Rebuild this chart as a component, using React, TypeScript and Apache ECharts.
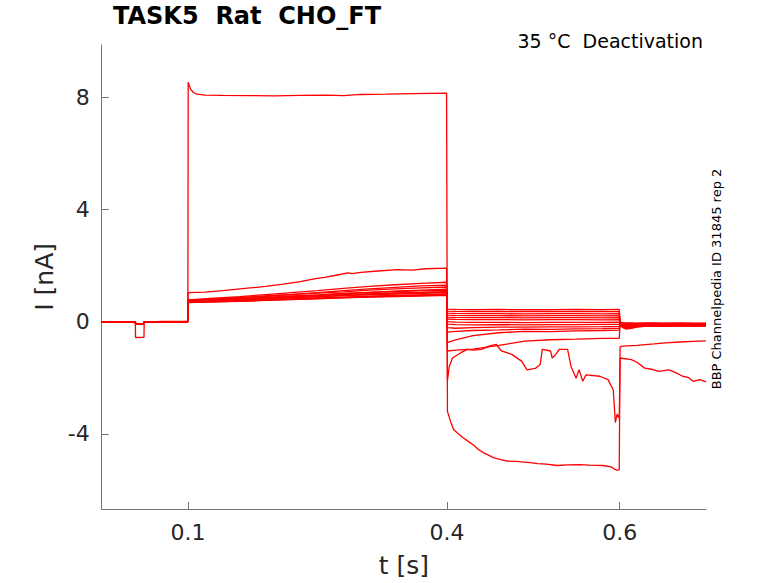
import React, { useEffect, useRef } from "react";
import * as echarts from "echarts";

// ---- axis ticks ----
const X_TICKS = [0.1, 0.4, 0.6];
const Y_TICKS = [-4, 0, 4, 8];

// ---- shared sample times ----
const PRE_POINTS: number[][] = [
  [0, -0.02], [0.015, -0.01], [0.03, -0.02], [0.039, -0.02], [0.0392, -0.08],
  [0.049, -0.07], [0.0492, -0.01], [0.065, -0.03], [0.08, -0.01], [0.0998, -0.01],
];
const PRE_BIG: number[][] = [
  [0, -0.01], [0.02, -0.02], [0.039, -0.02], [0.0392, -0.57], [0.049, -0.56],
  [0.0492, -0.02], [0.07, 0.0], [0.0998, 0.0],
];
const STEP_T = [0.1002, 0.13, 0.16, 0.19, 0.22, 0.25, 0.28, 0.31, 0.34, 0.37, 0.3995];
const TAIL_T = [0.4005, 0.41, 0.43, 0.46, 0.49, 0.52, 0.55, 0.58, 0.5995];
const POST_T = [0.6005, 0.603, 0.607, 0.612, 0.62, 0.635, 0.65, 0.67, 0.69, 0.7];

// ---- lower-group traces: step, tail, post values ----
const STEP_VALUES: number[][] = [
  [0.72, 0.73, 0.76, 0.78, 0.81, 0.84, 0.87, 0.9, 0.93, 0.95, 0.97],
  [0.69, 0.71, 0.74, 0.77, 0.8, 0.83, 0.85, 0.88, 0.91, 0.93, 0.95],
  [0.67, 0.7, 0.72, 0.75, 0.78, 0.81, 0.84, 0.87, 0.89, 0.91, 0.93],
  [0.73, 0.75, 0.78, 0.81, 0.85, 0.88, 0.92, 0.95, 0.98, 1.0, 1.02],
  [0.68, 0.7, 0.73, 0.76, 0.79, 0.83, 0.86, 0.89, 0.92, 0.95, 0.97],
  [0.74, 0.77, 0.8, 0.84, 0.88, 0.92, 0.96, 0.99, 1.02, 1.04, 1.06],
  [0.7, 0.73, 0.77, 0.8, 0.85, 0.89, 0.93, 0.97, 1.0, 1.03, 1.05],
  [0.75, 0.78, 0.82, 0.86, 0.91, 0.95, 1.0, 1.04, 1.07, 1.09, 1.11],
  [0.71, 0.75, 0.79, 0.84, 0.89, 0.94, 0.99, 1.04, 1.08, 1.12, 1.15],
  [0.76, 0.8, 0.85, 0.9, 0.96, 1.01, 1.06, 1.12, 1.16, 1.2, 1.23],
  [0.74, 0.79, 0.85, 0.91, 0.97, 1.03, 1.1, 1.16, 1.22, 1.27, 1.3],
  [0.77, 0.83, 0.89, 0.96, 1.03, 1.1, 1.18, 1.25, 1.31, 1.36, 1.4],
];
const TAIL_VALUES: number[][] = [
  [0.44, 0.43, 0.42, 0.43, 0.42, 0.42, 0.43, 0.42, 0.43],
  [0.37, 0.36, 0.35, 0.36, 0.35, 0.35, 0.36, 0.35, 0.35],
  [0.3, 0.29, 0.28, 0.28, 0.27, 0.28, 0.28, 0.27, 0.28],
  [0.23, 0.22, 0.21, 0.21, 0.2, 0.21, 0.21, 0.2, 0.21],
  [0.16, 0.15, 0.14, 0.14, 0.13, 0.14, 0.14, 0.13, 0.14],
  [0.09, 0.08, 0.07, 0.07, 0.06, 0.07, 0.07, 0.06, 0.07],
  [0.0, -0.02, -0.03, -0.03, -0.04, -0.03, -0.03, -0.03, -0.02],
  [-0.09, -0.11, -0.12, -0.11, -0.12, -0.11, -0.11, -0.1, -0.1],
  [-0.22, -0.24, -0.22, -0.2, -0.2, -0.19, -0.19, -0.18, -0.17],
  [-0.38, -0.35, -0.32, -0.3, -0.27, -0.28, -0.26, -0.25, -0.24],
  [-0.75, -0.65, -0.5, -0.4, -0.35, -0.36, -0.33, -0.32, -0.31],
  [-1.05, -1.02, -0.98, -0.85, -0.7, -0.65, -0.63, -0.6, -0.6],
];
const POST_VALUES: number[][] = [
  [-0.02, -0.04, -0.05, -0.05, -0.06, -0.05, -0.06, -0.05, -0.06, -0.06],
  [-0.04, -0.06, -0.08, -0.07, -0.07, -0.06, -0.07, -0.07, -0.08, -0.07],
  [-0.05, -0.08, -0.1, -0.09, -0.08, -0.08, -0.09, -0.08, -0.09, -0.09],
  [-0.06, -0.1, -0.12, -0.1, -0.09, -0.09, -0.1, -0.09, -0.1, -0.1],
  [-0.07, -0.12, -0.14, -0.12, -0.1, -0.1, -0.11, -0.1, -0.11, -0.1],
  [-0.08, -0.14, -0.17, -0.15, -0.12, -0.11, -0.12, -0.11, -0.12, -0.11],
  [-0.09, -0.16, -0.2, -0.18, -0.14, -0.12, -0.13, -0.12, -0.13, -0.12],
  [-0.1, -0.18, -0.23, -0.22, -0.16, -0.13, -0.14, -0.13, -0.14, -0.13],
  [-0.1, -0.2, -0.25, -0.24, -0.18, -0.14, -0.15, -0.14, -0.15, -0.14],
  [-0.11, -0.2, -0.26, -0.25, -0.2, -0.15, -0.16, -0.15, -0.15, -0.15],
  [-0.1, -0.16, -0.2, -0.2, -0.17, -0.14, -0.15, -0.14, -0.15, -0.15],
  [-0.12, -0.17, -0.19, -0.18, -0.16, -0.15, -0.16, -0.15, -0.16, -0.16],
];

// ---- trace with the largest step current (≈8 nA) ----
const BIG_STEP: number[][] = [
  [0.1002, 8.53], [0.1015, 8.4], [0.103, 8.28], [0.106, 8.17], [0.11, 8.1],
  [0.12, 8.07], [0.14, 8.06], [0.17, 8.05], [0.2, 8.04], [0.23, 8.06],
  [0.26, 8.07], [0.28, 8.05], [0.3, 8.09], [0.33, 8.1], [0.36, 8.12],
  [0.38, 8.13], [0.3995, 8.14],
];
const BIG_TAIL: number[][] = [
  [0.4005, -3.2], [0.404, -3.55], [0.4076, -3.85], [0.413, -4.0], [0.419, -4.15],
  [0.425, -4.28], [0.4306, -4.4], [0.436, -4.55], [0.442, -4.67], [0.448, -4.76],
  [0.4536, -4.85], [0.46, -4.9], [0.4697, -4.97], [0.48, -4.98], [0.4964, -5.03],
  [0.505, -5.06], [0.515, -5.08], [0.5276, -5.13], [0.54, -5.11], [0.554, -5.1],
  [0.565, -5.12], [0.5806, -5.13], [0.59, -5.18], [0.5945, -5.27], [0.598, -5.3],
  [0.5995, -5.28],
];
const BIG_POST: number[][] = [
  [0.6005, -0.9], [0.603, -0.88], [0.62, -0.85], [0.64, -0.8], [0.653, -0.76],
  [0.67, -0.73], [0.685, -0.71], [0.7, -0.69],
];

// ---- trace with ≈1.9 nA step and noisy tail ----
const MID_STEP: number[][] = [
  [0.1002, 1.03], [0.12, 1.05], [0.14, 1.1], [0.169, 1.19], [0.19, 1.25],
  [0.21, 1.33], [0.23, 1.42], [0.246, 1.52], [0.26, 1.58], [0.27, 1.64],
  [0.285, 1.73], [0.29, 1.71], [0.3, 1.75], [0.32, 1.8], [0.343, 1.85],
  [0.36, 1.83], [0.375, 1.88], [0.3995, 1.9],
];
const MID_TAIL: number[][] = [
  [0.4005, -2.1], [0.4026, -1.6], [0.4064, -1.3], [0.416, -1.11], [0.4237, -0.99],
  [0.43, -1.02], [0.44, -0.99], [0.4496, -0.87], [0.457, -0.81], [0.463, -1.05],
  [0.475, -1.17], [0.4867, -1.42], [0.4926, -1.72], [0.5022, -1.67], [0.508, -1.53],
  [0.5103, -0.99], [0.52, -1.05], [0.5218, -1.3], [0.526, -1.17], [0.53, -0.99],
  [0.5397, -0.99], [0.5436, -1.6], [0.5495, -2.02], [0.553, -1.72], [0.5572, -2.13],
  [0.561, -1.9], [0.5769, -1.95], [0.5865, -2.07], [0.5926, -2.44], [0.595, -3.6],
  [0.597, -3.3], [0.5995, -3.45],
];
const MID_POST: number[][] = [
  [0.6005, -1.3], [0.6135, -1.36], [0.62, -1.45], [0.629, -1.66], [0.637, -1.7],
  [0.645, -1.78], [0.657, -1.72], [0.665, -1.82], [0.673, -1.95], [0.68, -2.0],
  [0.685, -2.13], [0.693, -2.07], [0.7, -2.15],
];

const FONT = "DejaVu Sans";
const RED = "#ff0000";
const AXIS_GRAY = "#737373";
const TEXT_DARK = "#262626";

function zipPoints(times: number[], values: number[]): number[][] {
  return times.map((t, i) => [t, values[i]]);
}

function buildTraces(): number[][][] {
  const traces: number[][][] = [];
  for (let k = 0; k < STEP_VALUES.length; k++) {
    traces.push([
      ...PRE_POINTS,
      ...zipPoints(STEP_T, STEP_VALUES[k]),
      ...zipPoints(TAIL_T, TAIL_VALUES[k]),
      ...zipPoints(POST_T, POST_VALUES[k]),
    ]);
  }
  traces.push([...PRE_POINTS, ...MID_STEP, ...MID_TAIL, ...MID_POST]);
  traces.push([...PRE_BIG, ...BIG_STEP, ...BIG_TAIL, ...BIG_POST]);
  return traces;
}

export default function App() {
  const ref = useRef<HTMLDivElement>(null);

  useEffect(() => {
    if (!ref.current) return;
    const chart = echarts.init(ref.current, null, { renderer: "svg" });
    const traces = buildTraces();
    chart.setOption({
      animation: false,
      backgroundColor: "#ffffff",
      textStyle: { fontFamily: FONT },
      grid: { left: 101.7, right: 72, top: 44.8, bottom: 69.5, containLabel: false },
      xAxis: {
        type: "value",
        min: 0,
        max: 0.7,
        name: "t [s]",
        nameLocation: "middle",
        nameGap: 44,
        nameTextStyle: { fontSize: 25, color: TEXT_DARK, fontFamily: FONT },
        axisLine: { show: true, onZero: false, lineStyle: { color: AXIS_GRAY, width: 1 } },
        axisTick: { show: true, inside: true, length: 7, customValues: X_TICKS, lineStyle: { color: AXIS_GRAY } },
        axisLabel: {
          customValues: X_TICKS,
          fontSize: 22,
          color: TEXT_DARK,
          fontFamily: FONT,
          margin: 12,
          formatter: (v: number) => String(v),
        },
        splitLine: { show: false },
      },
      yAxis: {
        type: "value",
        min: -6.68,
        max: 9.86,
        name: "I [nA]",
        nameLocation: "middle",
        nameGap: 34,
        nameTextStyle: { fontSize: 25, color: TEXT_DARK, fontFamily: FONT },
        axisLine: { show: true, onZero: false, lineStyle: { color: AXIS_GRAY, width: 1 } },
        axisTick: { show: true, inside: true, length: 7, customValues: Y_TICKS, lineStyle: { color: AXIS_GRAY } },
        axisLabel: {
          customValues: Y_TICKS,
          fontSize: 22,
          color: TEXT_DARK,
          fontFamily: FONT,
          margin: 12,
          formatter: (v: number) => String(v),
        },
        splitLine: { show: false },
      },
      graphic: [
        {
          type: "text",
          left: 113,
          top: 4,
          style: {
            text: "TASK5  Rat  CHO_FT",
            fontSize: 24,
            fontWeight: "bold",
            fontFamily: FONT,
            fill: "#000000",
          },
        },
        {
          type: "text",
          x: 703,
          y: 41,
          style: {
            text: "35 °C  Deactivation",
            fontSize: 19,
            fontFamily: FONT,
            fill: "#000000",
            align: "right",
            verticalAlign: "middle",
          },
        },
        {
          type: "text",
          x: 716.5,
          y: 279,
          rotation: Math.PI / 2,
          style: {
            text: "BBP Channelpedia ID 31845 rep 2",
            fontSize: 13,
            fontFamily: FONT,
            fill: "#000000",
            align: "center",
            verticalAlign: "middle",
          },
        },
      ],
      series: traces.map((data, i) => ({
        type: "line",
        name: "trace" + (i + 1),
        data,
        showSymbol: false,
        symbol: "none",
        silent: true,
        clip: true,
        lineStyle: { color: RED, width: 1.3 },
      })),
    });
    return () => chart.dispose();
  }, []);

  return (
    <div
      ref={ref}
      style={{ position: "absolute", left: 0, top: 0, width: 778, height: 583 }}
    />
  );
}
